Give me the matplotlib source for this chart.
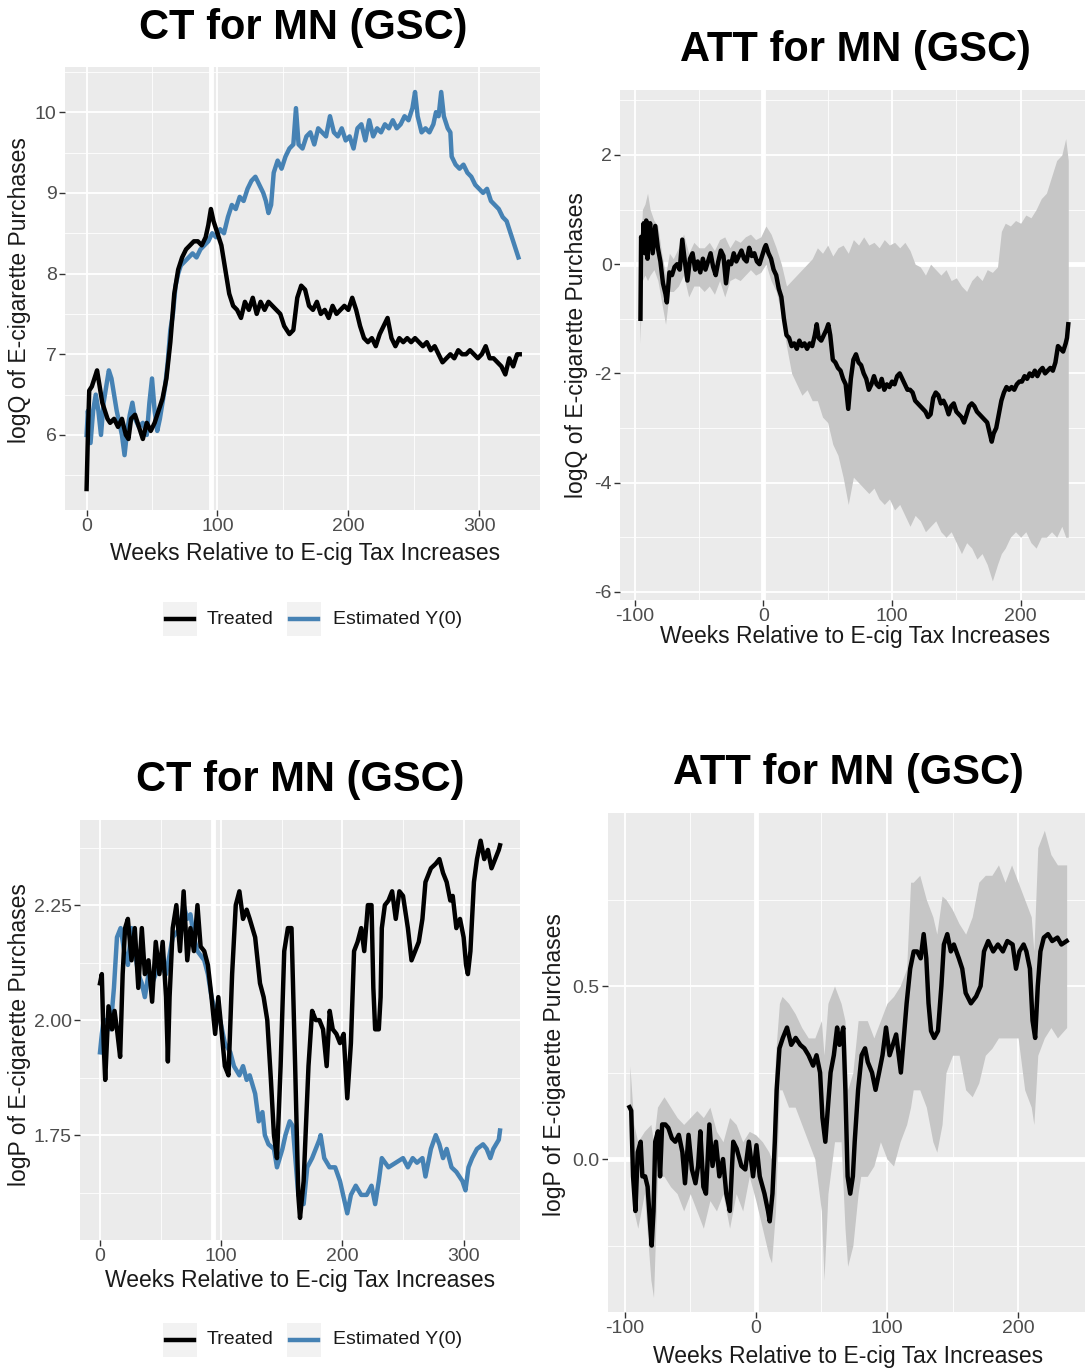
import matplotlib
matplotlib.use("Agg")
import matplotlib.pyplot as plt
from matplotlib.lines import Line2D
from matplotlib.patches import Rectangle
import numpy as np

plt.rcParams['font.family'] = ['Liberation Sans', 'DejaVu Sans']
plt.rcParams['axes.unicode_minus'] = False

#%% data : panel 1 (CT, logQ)
p1_wk_tr = [0, 1, 2, 4, 6, 8, 10, 12, 14, 16, 18, 21, 24, 27, 30, 32, 34, 37, 40, 43, 46, 49, 52, 55, 58, 61,
            64, 67, 70, 73, 76, 79, 82, 85, 88, 91, 93, 95, 97, 100, 103, 106, 109, 112, 115, 118, 121, 124,
            127, 130, 133, 136, 139, 142, 145, 148, 151, 155, 158, 161, 164, 167, 170, 173, 176, 179, 182,
            185, 188, 191, 194, 197, 200, 203, 206, 209, 212, 215, 218, 221, 224, 227, 230, 233, 236, 239,
            242, 245, 248, 251, 254, 257, 260, 263, 266, 269, 272, 275, 278, 281, 284, 287, 290, 293, 296,
            299, 302, 305, 308, 311, 314, 317, 320, 323, 326, 329, 331]
p1_treated = [5.33, 6.0, 6.55, 6.6, 6.7, 6.8, 6.6, 6.4, 6.3, 6.2, 6.15, 6.2, 6.1, 6.2, 6.0, 5.95, 6.2, 6.25,
              6.1, 5.95, 6.15, 6.05, 6.15, 6.3, 6.45, 6.7, 7.15, 7.75, 8.05, 8.2, 8.3, 8.35, 8.4, 8.4, 8.35,
              8.45, 8.6, 8.8, 8.65, 8.5, 8.35, 8.05, 7.75, 7.6, 7.55, 7.45, 7.65, 7.55, 7.7, 7.5, 7.65, 7.55,
              7.65, 7.6, 7.55, 7.5, 7.35, 7.25, 7.3, 7.7, 7.85, 7.8, 7.6, 7.55, 7.65, 7.5, 7.55, 7.45, 7.6,
              7.5, 7.55, 7.6, 7.55, 7.7, 7.55, 7.35, 7.2, 7.15, 7.2, 7.1, 7.25, 7.35, 7.45, 7.2, 7.1, 7.2,
              7.15, 7.2, 7.15, 7.2, 7.15, 7.1, 7.15, 7.05, 7.1, 7.0, 6.9, 6.95, 7.0, 6.95, 7.05, 7.0, 7.0,
              7.05, 7.0, 6.95, 7.0, 7.1, 6.95, 6.95, 6.9, 6.85, 6.75, 6.95, 6.85, 7.0, 7.0]
p1_wk_y0 = [0, 1, 3, 5, 7, 9, 11, 13, 15, 17, 19, 21, 23, 25, 27, 29, 31, 33, 35, 37, 40, 43, 46, 48, 50, 52,
            54, 56, 58, 60, 62, 64, 66, 68, 70, 72, 75, 78, 81, 84, 87, 90, 93, 96, 99, 102, 105, 108, 111,
            114, 117, 120, 123, 126, 129, 132, 135, 137, 139, 141, 143, 146, 149, 152, 155, 158, 160, 162,
            165, 168, 171, 174, 177, 180, 183, 186, 189, 192, 195, 198, 201, 204, 207, 210, 213, 216, 219,
            222, 225, 228, 231, 234, 237, 240, 243, 246, 249, 251, 253, 256, 259, 262, 265, 267, 269, 271,
            273, 276, 278, 279, 282, 285, 288, 291, 294, 297, 300, 303, 306, 309, 312, 315, 318, 321, 324,
            327, 330]
p1_y0 = [6.0, 6.3, 5.9, 6.3, 6.5, 6.3, 6.0, 6.4, 6.6, 6.8, 6.7, 6.5, 6.3, 6.15, 6.0, 5.75, 6.05, 6.25, 6.4,
         6.2, 6.1, 6.15, 6.0, 6.4, 6.7, 6.3, 6.05, 6.2, 6.4, 6.6, 6.9, 7.3, 7.5, 7.85, 8.0, 8.1, 8.15, 8.2,
         8.25, 8.2, 8.3, 8.35, 8.4, 8.5, 8.45, 8.55, 8.5, 8.7, 8.85, 8.8, 8.95, 8.9, 9.05, 9.15, 9.2, 9.1,
         9.0, 8.9, 8.75, 8.85, 9.25, 9.4, 9.3, 9.45, 9.55, 9.6, 10.05, 9.6, 9.55, 9.7, 9.75, 9.6, 9.8,
         9.75, 9.7, 9.95, 9.75, 9.7, 9.8, 9.65, 9.7, 9.55, 9.8, 9.85, 9.65, 9.9, 9.7, 9.8, 9.75, 9.85,
         9.8, 9.9, 9.8, 9.85, 9.95, 9.9, 10.05, 10.25, 9.95, 9.75, 9.8, 9.75, 9.85, 10.0, 9.95, 10.25,
         9.95, 9.8, 9.75, 9.45, 9.35, 9.3, 9.35, 9.25, 9.2, 9.1, 9.05, 9.0, 9.05, 8.9, 8.85, 8.8, 8.7,
         8.65, 8.5, 8.35, 8.2]

#%% data : panel 2 (ATT, logQ)
p2_wk = [-95.5, -95, -94, -93, -92, -91, -90, -89, -88, -86, -84, -82, -80, -78, -76, -75, -73, -71, -69,
         -67, -65, -63, -61, -59, -57, -55, -53, -51, -49, -47, -45, -43, -41, -39, -37, -35, -33, -31,
         -29, -27, -25, -23, -21, -19, -17, -15, -13, -11, -9, -7, -5, -3, -1, 1, 2, 4, 6, 8, 10, 12, 14,
         16, 18, 20, 22, 24, 26, 28, 30, 32, 34, 36, 38, 40, 41.5, 43, 45, 47, 49, 50.5, 52, 54, 56, 58,
         60, 62, 64, 66, 68, 70, 72, 74, 76, 78, 80, 82, 84, 86, 88, 90, 92, 94, 96, 98, 100, 102, 104,
         106, 108, 110, 112, 114, 116, 118, 120, 122, 124, 126, 128, 130, 132, 134, 136, 138, 140, 142,
         144, 146, 148, 150, 152, 154, 156, 158, 160, 162, 164, 166, 168, 170, 172, 174, 176, 177.5, 179,
         181, 183, 185, 187, 189, 191, 193, 195, 197, 199, 201, 203, 205, 207, 209, 211, 213, 215, 217,
         219, 221, 223, 225, 227, 229, 231, 233, 235, 236, 237]
p2_att = [-1.0, 0.5, 0.3, 0.75, 0.2, 0.8, 0.1, 0.6, 0.75, 0.2, 0.7, 0.3, 0.05, -0.35, -0.55, -0.7, -0.15,
          -0.2, -0.05, 0.0, -0.1, 0.45, 0.05, -0.3, 0.1, 0.2, -0.1, 0.05, -0.15, 0.1, -0.1, 0.05, 0.2,
          -0.05, -0.2, 0.05, 0.25, 0.15, -0.35, 0.05, 0.0, 0.2, 0.05, 0.15, 0.25, 0.1, 0.05, 0.3, 0.15,
          0.2, 0.05, 0.0, 0.15, 0.3, 0.35, 0.2, 0.1, -0.1, -0.2, -0.45, -0.6, -1.0, -1.3, -1.35, -1.5,
          -1.45, -1.55, -1.4, -1.5, -1.45, -1.55, -1.45, -1.5, -1.3, -1.1, -1.35, -1.4, -1.3, -1.2, -1.1,
          -1.3, -1.75, -1.8, -1.9, -1.95, -2.1, -2.2, -2.65, -2.1, -1.75, -1.65, -1.8, -1.85, -2.0, -2.1,
          -2.3, -2.2, -2.05, -2.2, -2.25, -2.1, -2.3, -2.2, -2.25, -2.15, -2.2, -2.05, -2.0, -2.1, -2.2,
          -2.3, -2.3, -2.35, -2.5, -2.55, -2.6, -2.65, -2.7, -2.8, -2.75, -2.45, -2.35, -2.4, -2.55, -2.5,
          -2.6, -2.75, -2.6, -2.55, -2.7, -2.75, -2.8, -2.9, -2.75, -2.6, -2.55, -2.6, -2.7, -2.75, -2.8,
          -2.85, -2.9, -3.1, -3.25, -3.1, -3.0, -2.75, -2.5, -2.35, -2.25, -2.3, -2.25, -2.3, -2.2, -2.15,
          -2.15, -2.05, -2.1, -2.0, -2.05, -1.95, -2.05, -1.95, -1.9, -2.0, -1.95, -1.9, -1.95, -1.8,
          -1.5, -1.55, -1.6, -1.45, -1.35, -1.1]
p2_band_wk = [-96, -94, -92, -90, -88, -85, -82, -79, -76, -73, -70, -66, -62, -58, -54, -50, -46, -42,
              -38, -34, -30, -26, -22, -18, -14, -10, -6, -2, 2, 6, 10, 14, 18, 22, 26, 30, 34, 38, 42,
              46, 50, 54, 58, 62, 66, 70, 74, 78, 82, 86, 90, 94, 98, 102, 106, 110, 114, 118, 122, 126,
              130, 134, 138, 142, 146, 150, 154, 158, 162, 166, 170, 174, 178, 182, 185, 188, 192, 196,
              200, 204, 208, 212, 216, 220, 224, 228, 232, 235, 237]
p2_hi = [-0.3, 1.0, 1.1, 1.3, 1.0, 0.8, 0.7, 0.2, -0.2, 0.2, 0.1, 0.3, 0.55, 0.2, 0.4, 0.3, 0.3, 0.4,
         0.25, 0.45, 0.5, 0.3, 0.45, 0.4, 0.5, 0.55, 0.45, 0.5, 0.7, 0.55, 0.3, 0.0, -0.4, -0.3, -0.2,
         -0.1, 0.0, 0.1, 0.3, 0.2, 0.35, 0.15, 0.3, 0.35, 0.2, 0.45, 0.35, 0.5, 0.35, 0.4, 0.3, 0.45,
         0.35, 0.4, 0.3, 0.4, 0.25, 0.0, -0.05, -0.2, 0.0, -0.1, -0.2, -0.1, -0.3, -0.25, -0.4, -0.5,
         -0.3, -0.2, -0.3, -0.1, -0.15, -0.05, 0.6, 0.75, 0.7, 0.8, 0.75, 0.9, 0.85, 1.0, 1.2, 1.3, 1.6,
         1.9, 2.0, 2.3, 1.9]
p2_lo = [-1.45, -0.3, -0.2, -0.3, -0.2, -0.1, -0.3, -0.7, -1.1, -0.5, -0.5, -0.4, -0.2, -0.6, -0.4,
         -0.4, -0.5, -0.4, -0.55, -0.3, -0.6, -0.3, -0.25, -0.3, -0.2, -0.1, -0.2, -0.15, 0.0, -0.3,
         -0.5, -0.9, -1.5, -2.0, -2.2, -2.4, -2.3, -2.5, -2.5, -2.8, -2.9, -3.3, -3.5, -3.9, -4.4, -3.9,
         -4.0, -4.1, -4.2, -4.1, -4.3, -4.4, -4.3, -4.5, -4.4, -4.6, -4.8, -4.6, -4.7, -4.9, -4.8, -4.7,
         -4.9, -5.0, -4.9, -5.1, -5.3, -5.1, -5.2, -5.4, -5.3, -5.5, -5.8, -5.5, -5.3, -5.2, -5.0, -4.9,
         -5.0, -4.9, -5.1, -5.2, -5.0, -5.0, -4.9, -5.0, -4.8, -5.0, -5.0]

#%% data : panel 3 (CT, logP)
p3_wk_tr = [0, 1.5, 3, 4.3, 7, 10, 12, 14, 16.6, 18.7, 20.7, 23, 26, 28.7, 31.6, 34.5, 37, 40, 43, 46, 49,
            51.7, 54.5, 56, 57.4, 60, 63, 66, 69, 72, 74.6, 77.5, 80.4, 83, 86, 89, 92, 95, 97.6, 100.5,
            103, 106, 109, 112, 115, 118, 121, 123.5, 128, 132, 135, 138, 141, 143.5, 146, 149, 152, 155,
            158, 161, 163.6, 165, 168, 172, 175, 178, 181, 184, 187, 189.5, 192, 195, 198, 201, 204, 207,
            209.6, 212.5, 215.5, 218, 221, 224, 225.5, 227, 230, 231.5, 232.5, 235, 238, 241, 244, 247,
            250, 254, 257, 260, 263, 266, 268.5, 273, 277, 280, 283, 286, 289, 291, 294, 297, 300, 302,
            303.5, 305.6, 308.5, 311, 314, 317, 320, 323, 326, 329, 330]
p3_treated = [2.08, 2.1, 1.95, 1.87, 2.03, 1.98, 2.02, 1.98, 1.92, 2.1, 2.2, 2.22, 2.13, 2.2, 2.07, 2.2,
              2.1, 2.13, 2.04, 2.17, 2.1, 2.17, 2.05, 1.91, 2.05, 2.2, 2.25, 2.15, 2.28, 2.13, 2.2, 2.15,
              2.25, 2.16, 2.15, 2.12, 2.05, 1.97, 2.05, 1.97, 1.9, 1.88, 2.1, 2.25, 2.28, 2.22, 2.24, 2.22,
              2.18, 2.08, 2.05, 2.0, 1.87, 1.75, 1.7, 1.9, 2.15, 2.2, 2.2, 1.9, 1.62, 1.57, 1.65, 1.9,
              2.02, 2.0, 2.0, 1.98, 1.9, 2.02, 1.98, 1.97, 1.95, 1.97, 1.83, 1.95, 2.15, 2.17, 2.2, 2.15,
              2.25, 2.25, 2.07, 1.98, 1.98, 2.05, 2.2, 2.25, 2.26, 2.28, 2.22, 2.28, 2.27, 2.2, 2.13, 2.15,
              2.17, 2.22, 2.3, 2.33, 2.34, 2.35, 2.32, 2.3, 2.26, 2.27, 2.2, 2.22, 2.18, 2.12, 2.1, 2.15,
              2.3, 2.35, 2.39, 2.35, 2.37, 2.33, 2.35, 2.37, 2.38]
p3_wk_y0 = [0, 1.5, 3, 6, 8.6, 11.5, 14, 17, 20, 23, 26, 28.7, 31.6, 34.5, 37, 40, 43, 49, 54.5, 60, 66,
            69, 72, 74.6, 77.5, 80.4, 86, 89, 92, 95, 99, 103, 107.5, 110.5, 115, 118, 121, 123.5, 128,
            131, 134, 136, 139, 143.5, 146, 150.5, 153, 156.5, 159, 163.6, 168, 171, 175, 181, 182, 185,
            189.5, 194, 198, 204, 207, 211, 215.5, 220, 224, 227, 230, 232.5, 238, 244, 250, 254, 258,
            261.5, 266, 268.5, 273, 277, 280, 283, 286, 290, 294, 299, 301.5, 304, 307, 311, 316, 319,
            322, 324.5, 329, 330]
p3_y0 = [1.93, 1.97, 2.0, 2.0, 1.98, 2.07, 2.18, 2.2, 2.15, 2.12, 2.2, 2.15, 2.1, 2.08, 2.05, 2.1, 2.08,
         2.12, 2.1, 2.18, 2.2, 2.25, 2.22, 2.23, 2.18, 2.15, 2.13, 2.1, 2.05, 2.02, 2.0, 1.95, 1.93, 1.9,
         1.88, 1.9, 1.87, 1.88, 1.84, 1.78, 1.8, 1.75, 1.73, 1.72, 1.68, 1.72, 1.75, 1.78, 1.77, 1.62,
         1.6, 1.68, 1.7, 1.74, 1.75, 1.7, 1.68, 1.68, 1.65, 1.58, 1.62, 1.64, 1.62, 1.62, 1.64, 1.6,
         1.65, 1.7, 1.68, 1.69, 1.7, 1.68, 1.7, 1.69, 1.7, 1.66, 1.72, 1.75, 1.73, 1.7, 1.72, 1.68,
         1.67, 1.65, 1.63, 1.68, 1.7, 1.72, 1.73, 1.72, 1.7, 1.72, 1.74, 1.76]

#%% data : panel 4 (ATT, logP)
p4_wk = [-96.3, -95, -93.6, -91.8, -90, -87.8, -86.5, -84.4, -82.5, -80.4, -79.4, -78, -76.7, -74.6, -73,
         -71.4, -69, -66.7, -64, -61.4, -58.7, -56, -54, -51.3, -48.7, -46, -44, -42.3, -40, -38, -35.4,
         -33, -30.4, -27.8, -25, -22.5, -19.8, -17.2, -14.6, -11, -8, -5.3, -2.1, 0.5, 3, 6.6, 9.3, 10.6,
         12.7, 14.5, 15.9, 18, 20.6, 23.8, 27, 30.4, 33.9, 37, 40.2, 43.7, 46.3, 49, 50.8, 53, 55, 57,
         59.5, 62, 63.8, 66.7, 68.3, 70, 72, 74, 75.4, 78, 80.7, 83.3, 85.4, 88.6, 91.3, 94, 96.6, 99.3,
         102, 104.5, 107, 110.6, 112.4, 115, 117.7, 120.4, 123, 125.7, 128, 130, 131.7, 133.6, 136,
         138.9, 141.5, 143.4, 146, 148.7, 151, 154.8, 157.4, 160, 164, 168, 171.4, 174, 177.2, 181,
         184.6, 188.4, 191.8, 195.8, 198.4, 201, 204.2, 206.3, 209, 211, 213, 215, 217, 219.6, 222.8,
         226, 230, 233, 237]
p4_att = [0.15, 0.14, -0.05, -0.15, 0.02, 0.05, -0.05, -0.05, -0.08, -0.2, -0.25, -0.15, 0.05, 0.08,
          -0.05, 0.1, 0.1, 0.09, 0.06, 0.05, 0.07, 0.02, -0.07, 0.07, -0.03, -0.07, -0.02, 0.08, -0.08,
          -0.1, 0.1, -0.02, 0.05, -0.05, 0.0, -0.1, -0.15, 0.05, 0.03, -0.02, -0.03, 0.05, -0.05, 0.04,
          -0.05, -0.1, -0.15, -0.18, -0.1, 0.05, 0.2, 0.32, 0.35, 0.38, 0.33, 0.35, 0.33, 0.32, 0.3, 0.27,
          0.3, 0.25, 0.12, 0.05, 0.15, 0.25, 0.3, 0.38, 0.33, 0.38, 0.2, -0.05, -0.1, -0.05, 0.05, 0.2,
          0.3, 0.32, 0.28, 0.25, 0.2, 0.25, 0.3, 0.38, 0.3, 0.33, 0.36, 0.25, 0.33, 0.45, 0.55, 0.6, 0.6,
          0.58, 0.65, 0.58, 0.45, 0.37, 0.35, 0.37, 0.5, 0.62, 0.65, 0.6, 0.62, 0.58, 0.55, 0.48, 0.45,
          0.47, 0.5, 0.6, 0.63, 0.6, 0.62, 0.6, 0.63, 0.62, 0.55, 0.6, 0.62, 0.6, 0.55, 0.4, 0.35, 0.5,
          0.6, 0.64, 0.65, 0.63, 0.64, 0.62, 0.63]
p4_band_wk = [-96, -93, -90, -85, -80, -78, -75, -70, -65, -60, -55, -50, -45, -40, -35, -30, -25, -20,
              -15, -10, -5, 0, 5, 10, 12, 15, 18, 20, 25, 30, 35, 40, 45, 50, 52, 55, 60, 65, 68, 70, 74,
              78, 80, 85, 90, 95, 100, 105, 110, 115, 118, 120, 125, 130, 135, 138, 142, 145, 150, 155,
              160, 165, 170, 175, 180, 185, 190, 195, 200, 205, 210, 212, 215, 220, 225, 230, 237]
p4_hi = [0.27, 0.1, 0.05, 0.08, 0.1, 0.05, 0.15, 0.18, 0.15, 0.12, 0.1, 0.12, 0.14, 0.12, 0.15, 0.08,
         0.05, 0.12, 0.1, 0.05, 0.08, 0.07, 0.05, 0.02, 0.0, 0.3, 0.45, 0.47, 0.45, 0.42, 0.38, 0.35,
         0.35, 0.4, 0.3, 0.45, 0.5, 0.45, 0.4, 0.2, 0.25, 0.4, 0.4, 0.4, 0.35, 0.4, 0.45, 0.47, 0.5,
         0.55, 0.8, 0.8, 0.82, 0.75, 0.7, 0.65, 0.76, 0.75, 0.72, 0.68, 0.65, 0.7, 0.8, 0.82, 0.82,
         0.85, 0.8, 0.85, 0.8, 0.75, 0.7, 0.6, 0.9, 0.95, 0.88, 0.85, 0.85]
p4_lo = [0.05, -0.15, -0.2, -0.1, -0.35, -0.4, -0.05, -0.05, -0.08, -0.1, -0.15, -0.1, -0.15, -0.2,
         -0.12, -0.15, -0.1, -0.2, -0.1, -0.15, -0.05, -0.12, -0.2, -0.28, -0.3, -0.15, 0.2, 0.2, 0.15,
         0.15, 0.1, 0.05, 0.0, -0.15, -0.35, -0.1, 0.05, 0.05, -0.2, -0.31, -0.25, -0.1, -0.05, -0.05,
         -0.02, 0.05, 0.0, -0.02, 0.05, 0.1, 0.15, 0.2, 0.2, 0.15, 0.05, 0.02, 0.1, 0.25, 0.3, 0.3, 0.2,
         0.18, 0.22, 0.3, 0.32, 0.35, 0.35, 0.35, 0.35, 0.2, 0.15, 0.1, 0.3, 0.35, 0.38, 0.35, 0.38]

#%% style
W, H = 1085, 1370
BG = '#EBEBEB'
BLUE = '#4682B4'
BAND = '#C6C6C6'
LW = 3.2
XLAB = "Weeks Relative to E-cig Tax Increases"


def fx(px):
    return px / W


def fy(py):
    return 1 - py / H


def make_ax(fig, l, t, r, b):
    return fig.add_axes([fx(l), fy(b), (r - l) / W, (b - t) / H])


def style(ax, xlim, ylim, xmaj, xmin, ymaj, ymin, yfmt):
    ax.set_facecolor(BG)
    ax.set_xlim(*xlim)
    ax.set_ylim(*ylim)
    for s in ax.spines.values():
        s.set_visible(False)
    ax.set_xticks(xmaj)
    ax.set_xticks(xmin, minor=True)
    ax.set_yticks(ymaj)
    ax.set_yticks(ymin, minor=True)
    ax.set_yticklabels([yfmt.format(v) for v in ymaj])
    ax.grid(which='major', color='white', lw=1.3, zorder=0)
    ax.grid(which='minor', color='white', lw=0.6, zorder=0)
    ax.set_axisbelow(True)
    ax.tick_params(which='major', length=4, width=1, color='#333333', labelsize=14,
                   labelcolor='#4D4D4D', pad=2)
    ax.tick_params(which='minor', length=0)


fig = plt.figure(figsize=(W / 100, H / 100), dpi=100)

# panel 1
ax1 = make_ax(fig, 65, 67, 540, 510)
style(ax1, (-16.5, 346.5), (5.07, 10.56), [0, 100, 200, 300], [50, 150, 250],
      [6, 7, 8, 9, 10], [5.5, 6.5, 7.5, 8.5, 9.5, 10.5], "{:.0f}")
ax1.axvline(95, color='white', lw=3.5, zorder=1)
ax1.plot(p1_wk_y0, p1_y0, color=BLUE, lw=LW, zorder=3)
ax1.plot(p1_wk_tr, p1_treated, color='black', lw=LW, zorder=4)

# panel 2
ax2 = make_ax(fig, 620, 90, 1085, 600)
style(ax2, (-111.4, 250), (-6.15, 3.19), [-100, 0, 100, 200], [-50, 50, 150],
      [-6, -4, -2, 0, 2], [-5, -3, -1, 1, 3], "{:.0f}")
ax2.axvline(0, color='white', lw=3.5, zorder=1)
ax2.axhline(0, color='white', lw=3.5, zorder=1)
ax2.fill_between(p2_band_wk, p2_lo, p2_hi, color=BAND, lw=0, zorder=2)
ax2.plot(p2_wk, p2_att, color='black', lw=LW, zorder=4)

# panel 3
ax3 = make_ax(fig, 80, 820, 520, 1240)
style(ax3, (-16.5, 346.5), (1.522, 2.435), [0, 100, 200, 300], [50, 150, 250],
      [1.75, 2.0, 2.25], [1.625, 1.875, 2.125, 2.375], "{:.2f}")
ax3.axvline(93, color='white', lw=3.5, zorder=1)
ax3.plot(p3_wk_y0, p3_y0, color=BLUE, lw=LW, zorder=3)
ax3.plot(p3_wk_tr, p3_treated, color='black', lw=LW, zorder=4)

# panel 4
ax4 = make_ax(fig, 608, 813, 1085, 1312)
style(ax4, (-112.7, 251), (-0.442, 1.0), [-100, 0, 100, 200], [-50, 50, 150],
      [0.0, 0.5], [-0.25, 0.25, 0.75], "{:.1f}")
ax4.axvline(0, color='white', lw=3.5, zorder=1)
ax4.axhline(0, color='white', lw=3.5, zorder=1)
ax4.fill_between(p4_band_wk, p4_lo, p4_hi, color=BAND, lw=0, zorder=2)
ax4.plot(p4_wk, p4_att, color='black', lw=LW, zorder=4)

# titles, axis labels
for txt, x, y in [("CT for MN (GSC)", 303, 28), ("ATT for MN (GSC)", 855, 50),
                  ("CT for MN (GSC)", 300, 780), ("ATT for MN (GSC)", 848, 773)]:
    fig.text(fx(x), fy(y), txt, ha='center', va='center', fontsize=30, fontweight='bold')
for x, y in [(305, 553), (855, 637), (300, 1280), (848, 1356)]:
    fig.text(fx(x), fy(y), XLAB, ha='center', va='center', fontsize=16.5, color='#1A1A1A')
for txt, x, y in [("logQ of E-cigarette Purchases", 20, 290), ("logQ of E-cigarette Purchases", 577, 345),
                  ("logP of E-cigarette Purchases", 20, 1035), ("logP of E-cigarette Purchases", 555, 1065)]:
    fig.text(fx(x), fy(y), txt, ha='center', va='center', rotation=90, fontsize=16.5, color='#1A1A1A')

# legends (grey key boxes like ggplot)
for y in [619, 1340]:
    for kx in [163, 287]:
        fig.patches.append(Rectangle((fx(kx), fy(y + 17)), 34 / W, 34 / H, transform=fig.transFigure,
                                     facecolor='#F2F2F2', edgecolor='none', zorder=0))
    fig.add_artist(Line2D([fx(166), fx(194)], [fy(y), fy(y)], color='black', lw=LW))
    fig.add_artist(Line2D([fx(290), fx(318)], [fy(y), fy(y)], color=BLUE, lw=LW))
    fig.text(fx(207), fy(y), "Treated", ha='left', va='center', fontsize=14, color='#1A1A1A')
    fig.text(fx(333), fy(y), "Estimated Y(0)", ha='left', va='center', fontsize=14, color='#1A1A1A')

fig.savefig("out.png", dpi=100)
